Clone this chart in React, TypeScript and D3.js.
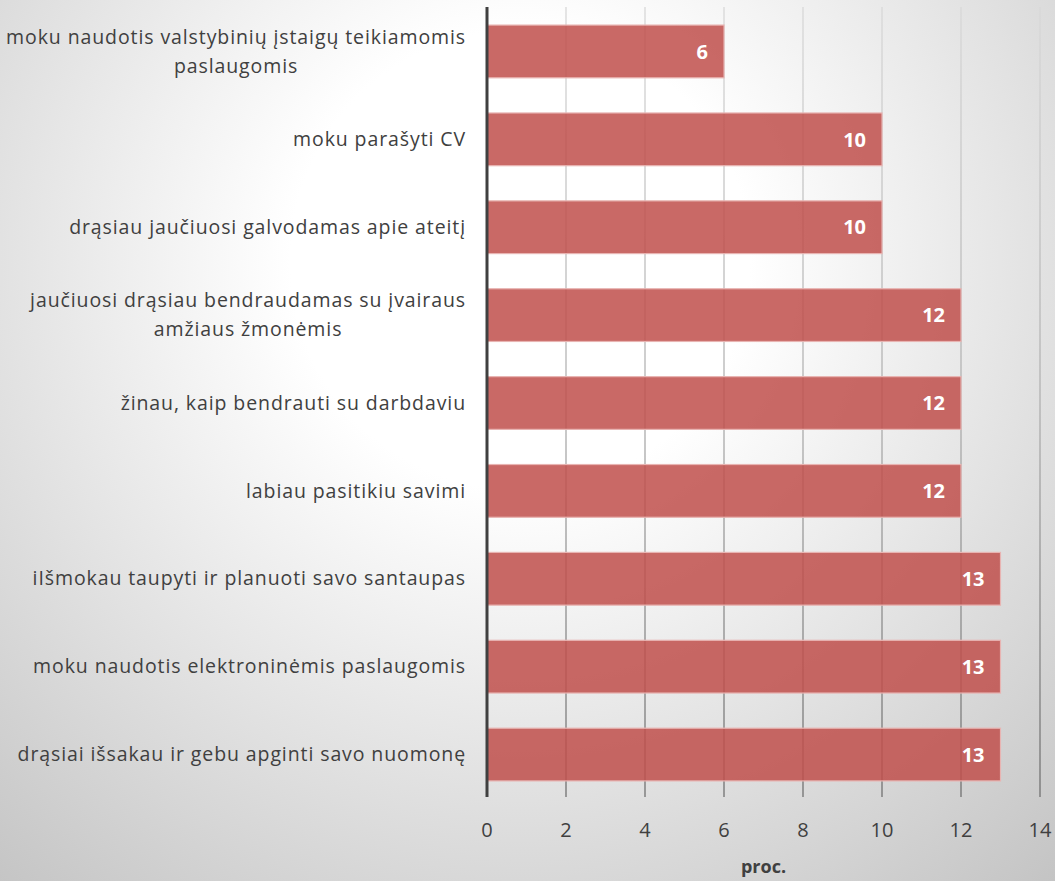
import React from "react";
import * as d3 from "d3";

const categories = [
  "moku naudotis valstybinių įstaigų teikiamomis|paslaugomis",
  "moku parašyti CV",
  "drąsiau jaučiuosi galvodamas apie ateitį",
  "jaučiuosi drąsiau bendraudamas su įvairaus|amžiaus žmonėmis",
  "žinau, kaip bendrauti su darbdaviu",
  "labiau pasitikiu savimi",
  "iIšmokau taupyti ir planuoti savo santaupas",
  "moku naudotis elektroninėmis paslaugomis",
  "drąsiai išsakau ir gebu apginti savo nuomonę",
];
const values = [6, 10, 10, 12, 12, 12, 13, 13, 13];
const xTicks = [0, 2, 4, 6, 8, 10, 12, 14];
const axisTitle = "proc.";

const W = 1055;
const H = 881;
const FONT = "'Open Sans', Lato, sans-serif";
const LABEL_SIZE = 19.5;
const LABEL_SPACING = 0.9;

export default function App() {
  const x = d3.scaleLinear().domain([0, 14]).range([487, 1040]);
  const y = d3
    .scaleBand<string>()
    .domain(categories)
    .range([7.5, 798.5])
    .paddingInner(0.4)
    .paddingOuter(0.2);
  const top = 7;
  const bottom = 797;

  return (
    <svg
      width={W}
      height={H}
      style={{ position: "absolute", left: 0, top: 0 }}
      fontFamily={FONT}
    >
      <defs>
        <radialGradient
          id="bg"
          gradientUnits="userSpaceOnUse"
          cx={520}
          cy={260}
          r={820}
        >
          <stop offset="0" stopColor="#ffffff" />
          <stop offset="0.28" stopColor="#ffffff" />
          <stop offset="1" stopColor="#c4c4c4" />
        </radialGradient>
        <linearGradient
          id="grid"
          gradientUnits="userSpaceOnUse"
          x1={0}
          y1={top}
          x2={0}
          y2={bottom}
        >
          <stop offset="0" stopColor="#d8d8d8" />
          <stop offset="0.5" stopColor="#b0b0b0" />
          <stop offset="1" stopColor="#707070" />
        </linearGradient>
      </defs>
      <rect x={0} y={0} width={W} height={H} fill="url(#bg)" />

      {xTicks.slice(1).map((t) => (
        <line
          key={t}
          x1={x(t)}
          x2={x(t)}
          y1={top}
          y2={bottom}
          stroke="url(#grid)"
          strokeWidth={1.3}
        />
      ))}

      {categories.map((c, i) => {
        const y0 = y(c)!;
        const bw = y.bandwidth();
        return (
          <g key={c}>
            <rect
              x={x(0)}
              y={y0}
              width={x(values[i]) - x(0)}
              height={bw}
              fill="#c0504d"
              fillOpacity={0.86}
              stroke="#e8b4b2"
              strokeWidth={1.2}
            />
            <text
              x={x(values[i]) - 16}
              y={y0 + bw / 2}
              dy="0.36em"
              textAnchor="end"
              fill="#ffffff"
              fontWeight="bold"
              fontSize={20}
            >
              {values[i]}
            </text>
          </g>
        );
      })}

      {categories.map((c) => {
        const lines = c.split("|");
        const cy = y(c)! + y.bandwidth() / 2;
        const lh = 29;
        if (lines.length === 1) {
          return (
            <text
              key={c}
              x={466}
              y={cy}
              dy="0.34em"
              textAnchor="end"
              fill="#404040"
              fontSize={LABEL_SIZE}
              letterSpacing={LABEL_SPACING}
            >
              {c}
            </text>
          );
        }
        return <MultiLine key={c} lines={lines} cy={cy} lh={lh} />;
      })}

      <line
        x1={x(0)}
        x2={x(0)}
        y1={top}
        y2={bottom}
        stroke="#404040"
        strokeWidth={3}
      />

      {xTicks.map((t) => (
        <text
          key={t}
          x={x(t)}
          y={837}
          textAnchor="middle"
          fill="#404040"
          fontSize={20}
        >
          {t}
        </text>
      ))}
      <text
        x={(x(0) + x(14)) / 2}
        y={873}
        textAnchor="middle"
        fill="#404040"
        fontWeight="bold"
        fontSize={18}
      >
        {axisTitle}
      </text>
    </svg>
  );
}

function MultiLine({
  lines,
  cy,
  lh,
}: {
  lines: string[];
  cy: number;
  lh: number;
}) {
  const ref = React.useRef<SVGTextElement>(null);
  const [cx, setCx] = React.useState(466);
  React.useLayoutEffect(() => {
    if (!ref.current) return;
    const widths = Array.from(ref.current.querySelectorAll("tspan")).map((t) =>
      (t as SVGTextContentElement).getComputedTextLength()
    );
    const maxW = d3.max(widths) || 0;
    setCx(466 - maxW / 2);
  }, []);
  const y0 = cy - ((lines.length - 1) * lh) / 2;
  return (
    <text
      ref={ref}
      textAnchor="middle"
      fill="#404040"
      fontSize={LABEL_SIZE}
      letterSpacing={LABEL_SPACING}
    >
      {lines.map((l, i) => (
        <tspan key={i} x={cx} y={y0 + i * lh} dy="0.34em">
          {l}
        </tspan>
      ))}
    </text>
  );
}
